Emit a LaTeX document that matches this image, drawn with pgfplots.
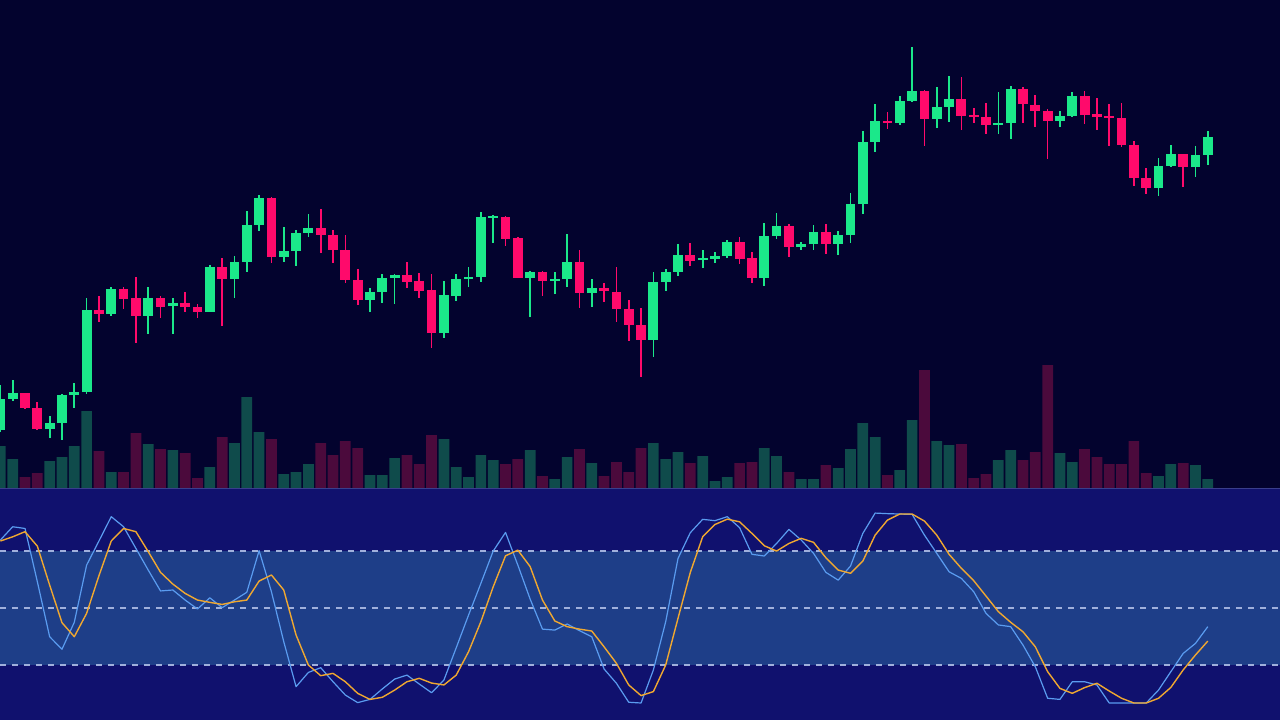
\documentclass[border=0pt]{standalone}
\usepackage{pgfplots}
\usepackage{pgfplotstable}
\pgfplotsset{compat=1.18}
\definecolor{bgtop}{RGB}{3,3,46}
\definecolor{bgbot}{RGB}{16,17,110}
\definecolor{band}{RGB}{30,62,136}
\definecolor{cgreen}{RGB}{27,232,138}
\definecolor{cred}{RGB}{255,10,107}
\definecolor{vgreen}{RGB}{15,75,75}
\definecolor{vred}{RGB}{75,10,60}
\definecolor{kline}{RGB}{90,156,240}
\definecolor{dline}{RGB}{240,168,48}
\definecolor{dashcol}{RGB}{160,176,220}
\definecolor{sepcol}{RGB}{58,62,140}

% columns: index, open, high, low, close (pixel rows, top = 0), volume
\pgfplotstableread{
i o h l c v
0 430 385 432 399 42
1 399 380 401 393 29
4 429 416 438 423 27
5 423 394 440 395 31
6 395 383 408 392 42
7 392 298 394 310 77
9 314 287 316 289 16
12 316 287 334 298 44
14 306 298 334 303 38
17 312 265 312 267 21
19 279 256 298 262 45
20 262 211 272 225 91
21 225 195 231 198 56
23 257 227 262 251 14
24 251 230 266 233 16
25 233 214 237 228 24
30 300 288 312 292 13
31 292 274 303 278 13
32 278 274 304 275 30
36 333 281 338 295 49
37 296 274 301 279 21
38 279 267 287 277 11
39 277 212 282 217 33
40 218 215 243 216 28
43 278 271 317 272 38
45 281 272 294 279 9
46 279 234 287 262 31
48 293 279 307 288 25
53 340 272 357 282 45
54 282 269 291 272 29
55 272 244 276 255 36
57 260 250 268 258 32
58 259 252 263 256 7
59 256 240 258 242 11
62 278 223 286 236 40
63 236 213 239 226 32
65 247 242 250 244 9
66 244 225 250 232 9
68 244 231 255 235 20
69 235 193 243 204 39
70 204 131 214 142 65
71 142 104 152 121 51
73 123 96 125 101 18
74 101 47 102 91 68
76 119 87 128 107 47
77 107 76 122 99 43
81 125 92 134 123 28
82 123 86 139 89 38
86 121 111 127 116 35
87 116 92 117 96 26
94 188 158 196 166 12
95 166 145 167 154 24
97 167 146 177 155 23
98 155 131 165 137 9
}\greentab

\pgfplotstableread{
i o h l c v
2 393 393 409 408 11
3 408 402 430 429 15
8 310 296 322 314 37
10 289 287 309 299 16
11 298 277 343 316 55
13 298 296 318 307 39
15 303 292 312 307 35
16 307 304 318 312 10
18 267 258 326 279 51
22 198 197 263 257 49
26 228 209 253 235 45
27 235 230 263 250 33
28 250 235 283 280 47
29 280 269 305 300 40
33 275 262 288 282 33
34 281 273 298 291 24
35 290 274 348 333 53
41 217 216 246 239 24
42 238 237 278 278 29
44 272 271 296 281 12
47 262 250 308 293 39
49 288 283 302 291 12
50 292 267 322 309 26
51 309 300 341 325 16
52 325 308 377 340 40
56 255 243 266 261 25
60 242 237 264 259 25
61 258 252 283 278 26
64 226 224 257 247 16
67 232 224 254 244 23
72 121 112 129 123 13
75 91 90 146 119 118
78 99 77 130 116 44
79 115 108 123 117 10
80 117 103 134 125 14
83 89 87 123 104 28
84 105 95 127 111 36
85 111 109 159 121 123
88 96 91 124 115 39
89 114 98 130 117 31
90 116 104 146 118 24
91 118 103 147 145 24
92 145 141 186 178 47
93 178 168 194 188 15
96 154 154 187 167 25
}\redtab

% stochastic oscillator: %K and %D
\pgfplotstableread{
i k d
0 85.8 85.3
1 92.8 87.5
2 91.9 90.2
3 63.9 82.6
4 34.9 62.1
5 28.3 42.3
6 42.5 34.9
7 72.6 47.2
8 85.3 67.0
9 98.1 85.3
10 92.8 91.9
11 81.4 90.2
12 70.0 79.7
13 59.0 68.8
14 59.5 62.6
15 54.2 57.7
16 49.5 54.2
17 55.4 53.0
18 50.2 51.9
19 54.2 53.3
20 58.3 54.2
21 80.2 64.2
22 58.6 67.4
23 32.3 59.5
24 8.6 35.8
25 16.1 20.0
26 18.6 14.4
27 11.2 15.6
28 4.2 11.2
29 0.2 5.1
30 1.9 1.9
31 7.4 3.0
32 12.6 6.8
33 14.7 11.2
34 10.0 13.0
35 5.4 10.5
36 12.1 9.5
37 29.1 14.7
38 46.3 27.0
39 63.0 42.8
40 80.0 61.2
41 89.8 77.5
42 72.6 80.5
43 54.7 71.8
44 38.9 54.2
45 38.4 43.2
46 41.6 40.2
47 38.1 38.9
48 34.9 37.9
49 17.9 29.6
50 10.4 20.9
51 0.4 9.5
52 0.0 3.9
53 17.4 6.0
54 42.8 20.0
55 76.1 44.6
56 89.7 68.8
57 96.7 87.5
58 96.0 94.0
59 98.1 96.8
60 92.3 95.4
61 78.3 89.3
62 77.4 82.8
63 84.0 80.0
64 91.4 84.0
65 85.8 86.7
66 78.8 84.6
67 68.8 76.5
68 64.7 70.0
69 72.1 68.3
70 89.3 74.7
71 100.0 88.4
72 99.7 96.3
73 99.5 99.5
74 99.3 99.5
75 88.4 95.8
76 78.8 88.4
77 69.1 78.3
78 65.6 70.9
79 58.6 64.4
80 47.2 56.3
81 41.1 48.1
82 40.2 42.5
83 30.5 37.5
84 19.1 29.6
85 2.5 16.5
86 1.9 7.7
87 11.2 5.1
88 11.2 8.1
89 9.5 10.4
90 0.0 6.3
91 0.0 2.5
92 0.0 0.0
93 0.0 0.0
94 6.8 2.5
95 16.5 8.2
96 26.1 17.4
97 31.4 25.3
98 40.2 32.6
}\osctab

\pgfplotsset{
  panel/.style={scale only axis, width=640pt, xmin=-0.03, xmax=103.86,
    ticks=none, axis line style={draw=none}, clip=true},
}

\begin{document}
\begin{tikzpicture}
% ---------- volume (top panel background) ----------
\begin{axis}[panel, at={(0,116pt)}, anchor=south west, height=244pt,
  ymin=0, ymax=488, axis background/.style={fill=bgtop}]
  \addplot[ybar, bar width=0.87, bar shift=0pt, fill=vgreen, draw=none] table[x=i, y=v] \greentab;
  \addplot[ybar, bar width=0.87, bar shift=0pt, fill=vred, draw=none] table[x=i, y=v] \redtab;
\end{axis}
% ---------- candles ----------
\begin{axis}[panel, at={(0,116pt)}, anchor=south west, height=244pt,
  ymin=0, ymax=488, y dir=reverse]
  \addplot[draw=cgreen, line width=0.85pt, quiver={u=0, v=\thisrow{l}-\thisrow{h}}] table[x=i, y=h] \greentab;
  \addplot[draw=cred, line width=0.85pt, quiver={u=0, v=\thisrow{l}-\thisrow{h}}] table[x=i, y=h] \redtab;
  \addplot[draw=cgreen, line width=4.9pt, quiver={u=0, v=\thisrow{c}-\thisrow{o}}] table[x=i, y=o] \greentab;
  \addplot[draw=cred, line width=4.9pt, quiver={u=0, v=\thisrow{c}-\thisrow{o}}] table[x=i, y=o] \redtab;
\end{axis}
% ---------- stochastic oscillator ----------
\begin{axis}[panel, at={(0,0)}, anchor=south west, height=116pt,
  ymin=-8.95, ymax=113.2, axis background/.style={fill=bgbot}]
  \addplot[fill=band, draw=none] coordinates {(-1,20) (105,20) (105,80) (-1,80)} -- cycle;
  \addplot[dashcol, line width=0.6pt, dash pattern=on 3pt off 3pt] coordinates {(-1,80) (105,80)};
  \addplot[dashcol, line width=0.6pt, dash pattern=on 3pt off 3pt] coordinates {(-1,50) (105,50)};
  \addplot[dashcol, line width=0.6pt, dash pattern=on 3pt off 3pt] coordinates {(-1,20) (105,20)};
  \addplot[sepcol, line width=1.2pt] coordinates {(-1,113.2) (105,113.2)};
  \addplot[kline, line width=0.6pt, line join=round] table[x=i, y=k] \osctab;
  \addplot[dline, line width=0.7pt, line join=round] table[x=i, y=d] \osctab;
\end{axis}
\pgfresetboundingbox
\path[use as bounding box] (0,0) rectangle (640pt,360pt);
\end{tikzpicture}
\end{document}
